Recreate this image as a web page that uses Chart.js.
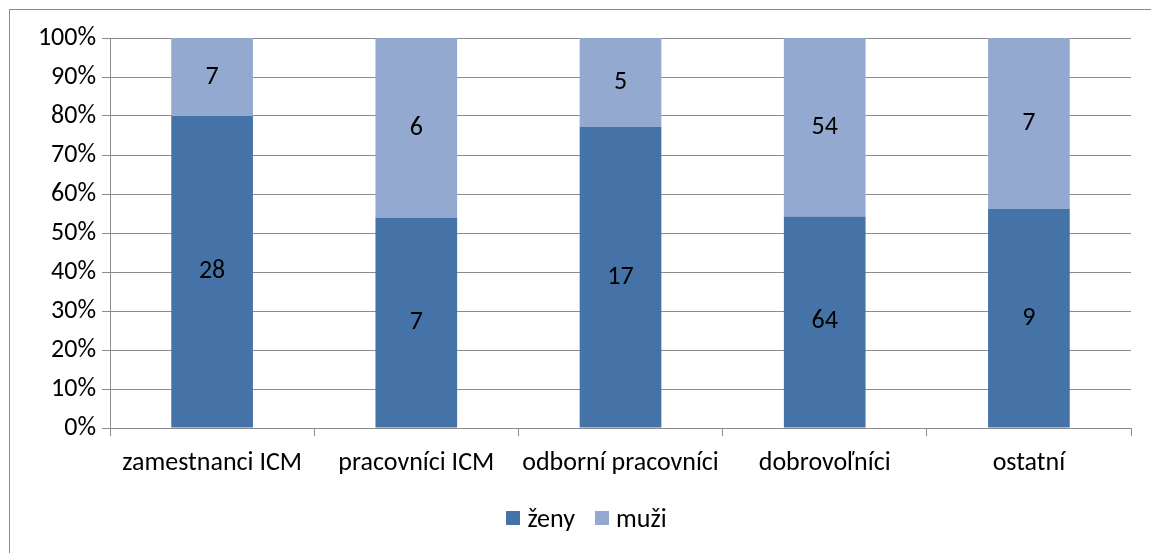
<!DOCTYPE html>
<html>
<head>
<meta charset="utf-8">
<script src="https://cdn.jsdelivr.net/npm/chart.js@4"></script>
<style>
  html, body { margin: 0; padding: 0; background: #fff; overflow: hidden; }
  #frame { position: absolute; left: 9px; top: 9px; width: 1200px; height: 600px;
           border-left: 1px solid #8c8c8c; border-top: 1px solid #8c8c8c; }
  #wrap { position: absolute; left: 0; top: 0; width: 1151px; height: 553px; }
  #legend { position: absolute; left: 0; top: 502px; width: 1173px; height: 32px;
            display: flex; justify-content: center; align-items: center;
            font: 26px Carlito, 'Open Sans', 'Liberation Sans', sans-serif; color: #000; }
  #legend .item { display: flex; align-items: center; margin: 0 10px; }
  #legend .box { width: 14px; height: 14px; margin-right: 7px; }
</style>
</head>
<body>
<div id="frame"></div>
<div id="wrap"><canvas id="chart" width="1151" height="553"></canvas></div>
<div id="legend"></div>
<script>
const categories = ['zamestnanci ICM', 'pracovníci ICM', 'odborní pracovníci', 'dobrovoľníci', 'ostatní'];
const zeny = [28, 7, 17, 64, 9];
const muzi = [7, 6, 5, 54, 7];
const yTicks = [0, 10, 20, 30, 40, 50, 60, 70, 80, 90, 100];

const FONT = "Carlito, 'Open Sans', 'Liberation Sans', sans-serif";
const SIZE = 26;

function share(a, b) {
  return a.map((v, i) => v / (v + b[i]) * 100);
}

// count labels in the middle of each segment
const valueLabels = {
  id: 'valueLabels',
  afterDatasetsDraw(chart) {
    const ctx = chart.ctx;
    ctx.save();
    ctx.font = SIZE + 'px ' + FONT;
    ctx.fillStyle = '#000';
    ctx.textAlign = 'center';
    ctx.textBaseline = 'middle';
    chart.data.datasets.forEach((ds, di) => {
      const meta = chart.getDatasetMeta(di);
      meta.data.forEach((bar, i) => {
        const mid = (bar.y + bar.base) / 2;
        ctx.fillText(String(ds.counts[i]), bar.x, mid);
      });
    });
    ctx.restore();
  }
};

const chart = new Chart(document.getElementById('chart'), {
  type: 'bar',
  data: {
    labels: categories,
    datasets: [
      { label: 'ženy', data: share(zeny, muzi), counts: zeny,
        backgroundColor: '#4573a7', barPercentage: 0.4, categoryPercentage: 1 },
      { label: 'muži', data: share(muzi, zeny), counts: muzi,
        backgroundColor: '#94a9cf', barPercentage: 0.4, categoryPercentage: 1 }
    ]
  },
  options: {
    responsive: false,
    animation: false,
    layout: { padding: { left: 0, right: 20, top: 38, bottom: 58 } },
    plugins: {
      tooltip: { enabled: false },
      legend: { display: false }
    },
    scales: {
      x: {
        stacked: true,
        grid: { drawOnChartArea: false, offset: true, color: '#8c8c8c', tickLength: 8 },
        border: { color: '#8c8c8c' },
        ticks: { font: { family: FONT, size: SIZE }, color: '#000', padding: 12 },
        afterFit(scale) { scale.height = 67; }
      },
      y: {
        stacked: true,
        min: 0, max: 100,
        afterBuildTicks(scale) { scale.ticks = yTicks.map(v => ({ value: v })); },
        grid: { color: '#8c8c8c', tickLength: 8 },
        border: { color: '#8c8c8c' },
        ticks: { font: { family: FONT, size: SIZE }, color: '#000', padding: 6,
                 callback: v => v + '%' },
        afterFit(scale) { scale.width = 110; }
      }
    }
  },
  plugins: [valueLabels]
});

// legend, built from the datasets
const legend = document.getElementById('legend');
chart.data.datasets.forEach(ds => {
  const item = document.createElement('div');
  item.className = 'item';
  item.innerHTML = `<span class="box" style="background:${ds.backgroundColor}"></span><span>${ds.label}</span>`;
  legend.appendChild(item);
});
</script>
</body>
</html>
